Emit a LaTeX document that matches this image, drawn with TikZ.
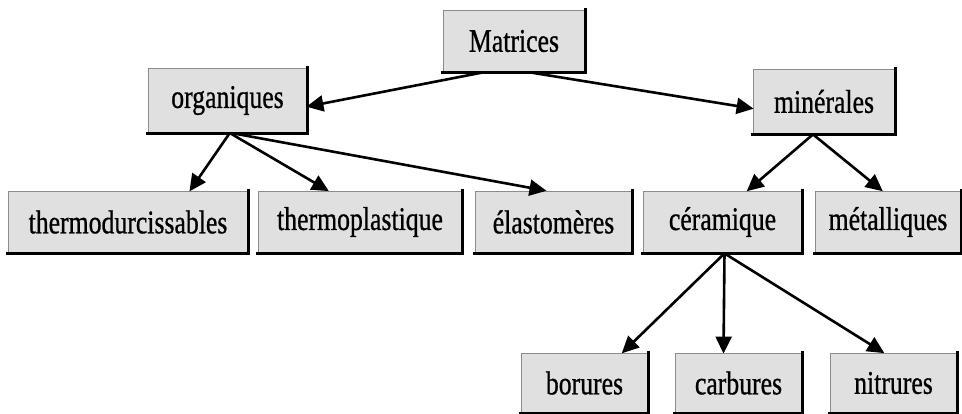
\documentclass[tikz,border=0pt]{standalone}
\usepackage{fontspec}
\usepackage{graphicx}
\setmainfont{Liberation Serif}
\newfontfamily\boxfont{Liberation Serif}[FakeBold=0.9]
\usetikzlibrary{arrows.meta}
% narrow, tall lettering inside the boxes
\newcommand{\lbl}[1]{\scalebox{0.78}[1]{#1}}
\tikzset{
  box/.style 2 args={rectangle, inner sep=0pt, fill=black!12, draw=black!45,
    line width=0.8pt, minimum width=#1pt, minimum height=#2pt,
    font=\boxfont\fontsize{33}{36}\selectfont},
  edgeshade/.style={draw=black, line width=2.6pt, line cap=rect},
  link/.style={draw=black, line width=2.6pt,
    -{Triangle[length=17pt,width=16pt]}, shorten >=-1pt}
}
\begin{document}
\begin{tikzpicture}[x=1pt,y=-1pt]
  \useasboundingbox (0,0) rectangle (962,413);

  % top level
  \node[box={142}{62}] (mat) at (514,41) {\lbl{Matrices}};
  % second level
  \node[box={159}{65}] (org) at (227.5,100.5) {\lbl{organiques}};
  \node[box={142}{65}] (min) at (824,101.5) {\lbl{minérales}};
  % third level
  \node[box={240}{62}] (tdc) at (128,222) {\lbl{thermodurcissables}};
  \node[box={204}{62}] (tpl) at (360,222) {\lbl{thermoplastique}};
  \node[box={157}{62}] (ela) at (553.5,222) {\lbl{élastomères}};
  \node[box={159}{62}] (cer) at (722.5,222) {\lbl{céramique}};
  \node[box={146}{62}] (met) at (888,222) {\lbl{métalliques}};
  % fourth level
  \node[box={127}{60}] (bor) at (584.5,383) {\lbl{borures}};
  \node[box={127}{60}] (car) at (738.5,383) {\lbl{carbures}};
  \node[box={127}{60}] (nit) at (893.5,383) {\lbl{nitrures}};

  % heavy lower and right edges of every box
  \foreach \n in {mat,org,min,tdc,tpl,ela,cer,met,bor,car,nit}
    \draw[edgeshade] (\n.south west) -- (\n.south east) -- (\n.north east);

  % connectors
  \draw[link] ([xshift=-31pt]mat.south) -- ([yshift=-6pt]org.east);
  \draw[link] ([xshift=16pt]mat.south)  -- ([yshift=-7pt]min.west);

  \draw[link] ([xshift=2pt]org.south) -- ([xshift=62pt]tdc.north);
  \draw[link] ([xshift=3pt]org.south) -- ([xshift=-32pt]tpl.north);
  \draw[link] ([xshift=6pt]org.south) -- ([xshift=-8pt]ela.north);

  \draw[link] ([xshift=-11pt]min.south) -- ([xshift=25pt]cer.north);
  \draw[link] ([xshift=-11pt]min.south) -- ([xshift=-6pt]met.north);

  \draw[link] ([xshift=2pt]cer.south) -- ([xshift=38pt]bor.north);
  \draw[link] ([xshift=2pt]cer.south) -- ([xshift=-15pt]car.north);
  \draw[link] ([xshift=2pt]cer.south) -- ([xshift=-10pt]nit.north);
\end{tikzpicture}
\end{document}
